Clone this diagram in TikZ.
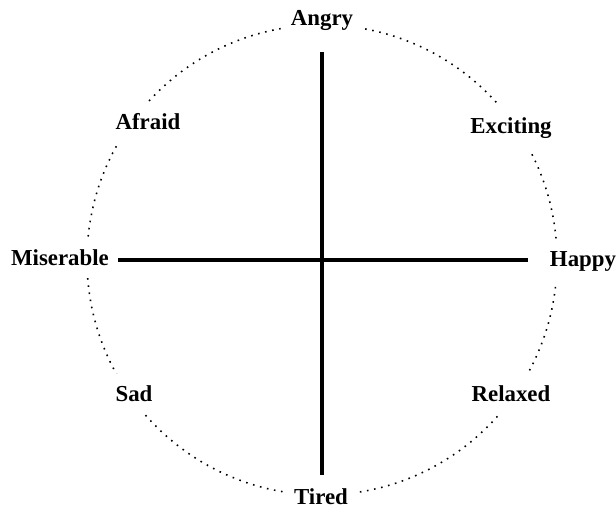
\documentclass[tikz,border=0pt]{standalone}
\usepackage{fontspec}
\setmainfont{Liberation Serif}
\usepackage{tikz}

\begin{document}
\begin{tikzpicture}[
  emo/.style={fill=white, inner xsep=5pt, inner ysep=7pt, font=\bfseries\fontsize{13}{15}\selectfont},
  axis/.style={line width=2pt},
]
\useasboundingbox (0,0) rectangle (12.32,10.22);
% dotted wheel
\coordinate (o) at (6.44,5.02);
\draw[line width=0.9pt, dash pattern=on 0.9pt off 3.2pt] (o) circle (4.7);

% axes
\coordinate (top) at (6.44,9.18);
\coordinate (bot) at (6.44,0.72);
\coordinate (lft) at (2.36,5.02);
\coordinate (rgt) at (10.56,5.02);
\draw[axis] (top) -- (bot);
\draw[axis] (lft) -- (rgt);

% emotions
\node[emo] (angry) at (6.44,9.82) {Angry};
\node[emo] (afraid) at (2.96,7.78) {Afraid};
\node[emo] (exciting) at (10.22,7.66) {Exciting};
\node[emo] (miserable) at (1.2,5.06) {Miserable};
\node[emo] (happy) at (11.66,5.0) {Happy};
\node[emo] (sad) at (2.68,2.34) {Sad};
\node[emo] (relaxed) at (10.22,2.34) {Relaxed};
\node[emo] (tired) at (6.42,0.28) {Tired};
\end{tikzpicture}
\end{document}
